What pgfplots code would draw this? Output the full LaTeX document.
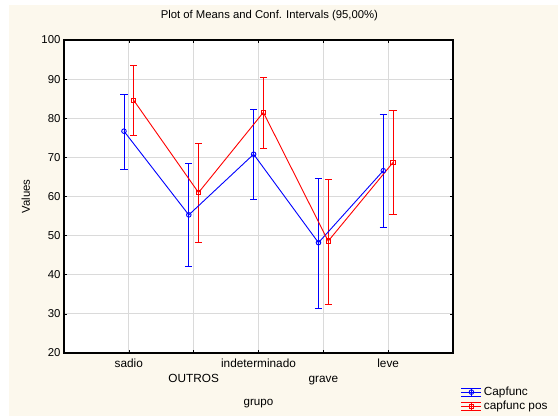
\documentclass[border=0pt]{standalone}
\usepackage{pgfplots}
\pgfplotsset{compat=1.18}
\usepackage{fontspec}
\setmainfont{Liberation Sans}
\definecolor{cream}{RGB}{252,248,237}
\definecolor{gridgray}{RGB}{218,218,218}
\begin{document}
\begin{tikzpicture}[x=1pt,y=1pt]
\fill[white] (0,0) rectangle (558,416);
\fill[cream] (9,0) rectangle (558,411);
\begin{axis}[at={(64pt,63pt)}, anchor=south west, scale only axis,
  width=389pt, height=313pt,
  xmin=-1, xmax=5, ymin=20, ymax=100,
  ytick={20,30,...,100}, xtick={0,...,4},
  xticklabels={{\strut sadio},{\strut\\\strut OUTROS},{\strut indeterminado},{\strut\\\strut grave},{\strut leve}},
  xticklabel style={font=\fontsize{11.8}{15.5}\selectfont, align=center, anchor=north, yshift=0pt},
  yticklabel style={font=\fontsize{11.4}{12}\selectfont},
  /pgf/number format/assume math mode=true,
  tick align=inside, major tick length=3pt,
  major tick style={black, line width=0.6pt},
  grid=major, major grid style={gridgray, line width=1pt},
  axis line style={black, line width=1.1pt},
  axis background/.style={fill=white},
  unbounded coords=jump,
  xlabel={grupo}, ylabel={Values},
  xlabel style={font=\fontsize{11.6}{12}\selectfont, at={(axis description cs:0.5,-0.163)}, anchor=center},
  ylabel style={font=\fontsize{11.4}{12}\selectfont, at={(axis description cs:-0.098,0.5)}, anchor=center, rotate=0},
  title={Plot of Means and Conf. Intervals (95,00\%)},
  title style={font=\fontsize{11.3}{12}\selectfont, at={(axis description cs:0.528,1.0575)}, anchor=center},
  legend style={at={(axis description cs:1.02,-0.102)}, anchor=north west, draw=none, fill=none,
    font=\fontsize{11.8}{12}\selectfont, row sep=0pt, inner sep=0pt},
  legend cell align=left,
  legend image code/.code={
    \draw[#1,mark=none] (0pt,0pt) -- (20pt,0pt);
    \draw[#1,mark=none] (0pt,4pt) -- (20pt,4pt);
    \draw[#1,mark=none] (0pt,-4pt) -- (20pt,-4pt);
    \draw[#1,mark=none] (10pt,-4pt) -- (10pt,4pt);
    \draw[#1] plot coordinates {(10pt,0pt)};
  },
]
% confidence intervals (bars and caps), blue
\addplot[blue, line width=0.9pt, mark=none, forget plot] coordinates {
 (-0.075,66.9) (-0.075,86.2) (-0.075,nan) (-0.13,86.2) (-0.02,86.2) (-0.075,nan) (-0.13,66.9) (-0.02,66.9) (-0.075,nan)
 (0.925,42.0) (0.925,68.4) (0.925,nan) (0.87,68.4) (0.98,68.4) (0.925,nan) (0.87,42.0) (0.98,42.0) (0.925,nan)
 (1.925,59.3) (1.925,82.2) (1.925,nan) (1.87,82.2) (1.98,82.2) (1.925,nan) (1.87,59.3) (1.98,59.3) (1.925,nan)
 (2.925,31.5) (2.925,64.7) (2.925,nan) (2.87,64.7) (2.98,64.7) (2.925,nan) (2.87,31.5) (2.98,31.5) (2.925,nan)
 (3.925,52.1) (3.925,80.9) (3.925,nan) (3.87,80.9) (3.98,80.9) (3.925,nan) (3.87,52.1) (3.98,52.1)
};
% confidence intervals (bars and caps), red
\addplot[red, line width=0.9pt, mark=none, forget plot] coordinates {
 (0.075,75.7) (0.075,93.4) (0.075,nan) (0.02,93.4) (0.13,93.4) (0.075,nan) (0.02,75.7) (0.13,75.7) (0.075,nan)
 (1.075,48.3) (1.075,73.6) (1.075,nan) (1.02,73.6) (1.13,73.6) (1.075,nan) (1.02,48.3) (1.13,48.3) (1.075,nan)
 (2.075,72.2) (2.075,90.4) (2.075,nan) (2.02,90.4) (2.13,90.4) (2.075,nan) (2.02,72.2) (2.13,72.2) (2.075,nan)
 (3.075,32.5) (3.075,64.4) (3.075,nan) (3.02,64.4) (3.13,64.4) (3.075,nan) (3.02,32.5) (3.13,32.5) (3.075,nan)
 (4.075,55.5) (4.075,82.0) (4.075,nan) (4.02,82.0) (4.13,82.0) (4.075,nan) (4.02,55.5) (4.13,55.5)
};
% means
\addplot[blue, line width=0.9pt, mark=o, mark size=2.3pt, mark options={line width=0.9pt}] coordinates {
 (-0.075,76.7) (0.925,55.3) (1.925,70.8) (2.925,48.2) (3.925,66.6)
};
\addlegendentry{Capfunc}
\addplot[red, line width=0.9pt, mark=square, mark size=2.2pt, mark options={line width=0.9pt}] coordinates {
 (0.075,84.6) (1.075,61.0) (2.075,81.5) (3.075,48.6) (4.075,68.7)
};
\addlegendentry{capfunc pos}
\end{axis}
\end{tikzpicture}
\end{document}
